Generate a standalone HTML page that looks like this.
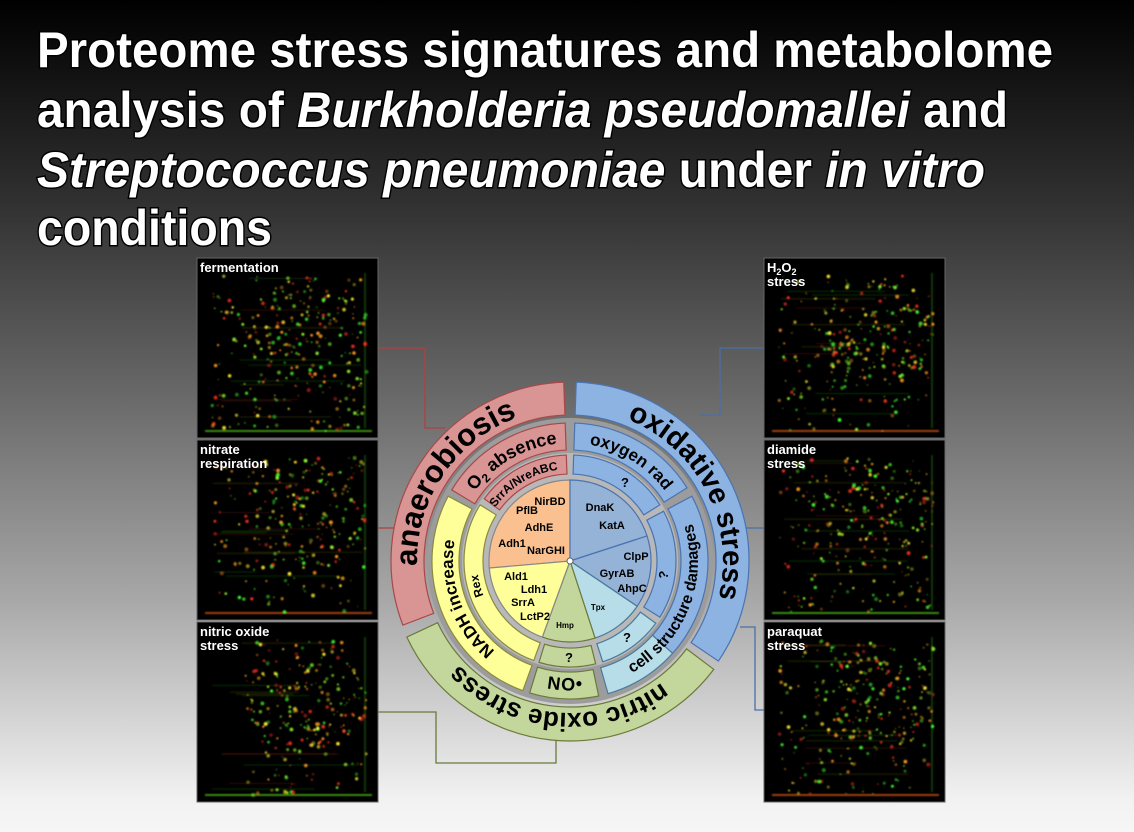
<!DOCTYPE html>
<html><head><meta charset="utf-8">
<style>
html,body{margin:0;padding:0;}
body{width:1134px;height:832px;overflow:hidden;background:linear-gradient(#000 0px,#303030 200px,#6a6a6a 400px,#a8a8a8 600px,#f2f2f2 800px,#f6f6f6 832px);}
svg{display:block;}
</style></head><body>
<svg id="s" width="1134" height="832" xmlns="http://www.w3.org/2000/svg">
<defs>
<filter id="bl" x="-50%" y="-50%" width="200%" height="200%"><feGaussianBlur stdDeviation="0.8"/></filter>
</defs>
<g font-family="Liberation Sans, sans-serif" font-weight="bold" fill="#fff" stroke="#000" stroke-width="3" paint-order="stroke" font-size="50">
<text x="37" y="67" textLength="1016" lengthAdjust="spacingAndGlyphs">Proteome stress signatures and metabolome</text>
<text x="37" y="127" textLength="971" lengthAdjust="spacingAndGlyphs">analysis of <tspan font-style="italic">Burkholderia pseudomallei</tspan> and</text>
<text x="37" y="187" textLength="948" lengthAdjust="spacingAndGlyphs"><tspan font-style="italic">Streptococcus pneumoniae</tspan> under <tspan font-style="italic">in vitro</tspan></text>
<text x="37" y="245" textLength="235" lengthAdjust="spacingAndGlyphs">conditions</text>
</g>
<g fill="none" stroke-width="1.3">
<path d="M378 348 H425 V428 H445" stroke="#b04040"/>
<path d="M378 528 H398" stroke="#b04040"/>
<path d="M764 348 H720 V415 H700" stroke="#4a6fa5"/>
<path d="M764 528 H745" stroke="#4a6fa5"/>
<path d="M764 710 H755 V627 H740" stroke="#4a6fa5"/>
<path d="M378 712 H436 V763 H556 V740" stroke="#6b7a3a"/>
</g>
<g id="gels"></g>
<g id="circ"></g>
</svg>
<script>
var NS="http://www.w3.org/2000/svg";
function el(t,a,p){var e=document.createElementNS(NS,t);for(var k in a)e.setAttribute(k,a[k]);if(p)p.appendChild(e);return e;}
var seed=7;function rnd(){seed=(seed*16807)%2147483647;return (seed-1)/2147483646;}
var G=document.getElementById('gels');var D=document.querySelector('defs');
var gels=[[197,258,"fermentation"],[197,440,"nitrate|respiration"],[197,622,"nitric oxide|stress"],[764,258,"H2O2|stress"],[764,440,"diamide|stress"],[764,622,"paraquat|stress"]];
gels.forEach(function(g,i){
 var x=g[0],y=g[1],w=181,h=180;
 var cp=el('clipPath',{id:'c'+i},D);el('rect',{x:x,y:y,width:w,height:h},cp);
 el('rect',{x:x,y:y,width:w,height:h,fill:'#000',stroke:'#666','stroke-width':1},G);
 var gg=el('g',{filter:'url(#bl)','clip-path':'url(#c'+i+')'},G);
 for(var k=0;k<10;k++){var yy=y+20+rnd()*150;el('rect',{x:x+15+rnd()*40,y:yy,width:40+rnd()*80,height:1,fill:['#1a5a10','#5a1a10','#4a4a10'][k%3],opacity:0.5},gg);}
 el('rect',{x:x+8,y:y+h-8,width:w-14,height:2,fill:i%2?'#a04010':'#3a8a10'},gg);
 el('rect',{x:x+w-14,y:y+15,width:2,height:h-25,fill:'#1a5a10',opacity:0.6},gg);
 var cols=['#40ff30','#ffee30','#ff3020','#ff9a20','#90ff30'];
 for(var k=0;k<420;k++){
   var px=x+15+rnd()*155, py=y+18+rnd()*155;
   if(i==2&&px<x+45)continue;
   var cxm=x+110,cym=y+75,d=Math.hypot((px-cxm)*0.9,py-cym);
   if(d>55&&rnd()<0.6)continue;
   var c=cols[Math.floor(rnd()*cols.length)];
   el('circle',{cx:px,cy:py,r:0.6+rnd()*1.4,fill:c,opacity:0.35+rnd()*0.6},gg);
 }
 var lines=g[2].split('|');
 lines.forEach(function(l,j){
  var t=el('text',{x:x+3,y:y+14+j*14,fill:'#fff','font-family':'Liberation Sans, sans-serif','font-weight':'bold','font-size':13},G);
  if(l=="H2O2"){t.innerHTML='H<tspan font-size="9" dy="3">2</tspan><tspan dy="-3">O</tspan><tspan font-size="9" dy="3">2</tspan>';}
  else t.textContent=l;
 });
});
var C=document.getElementById('circ');var cx=570,cy=561;
function pt(r,a){var t=a*Math.PI/180;return [(cx+r*Math.sin(t)).toFixed(2),(cy-r*Math.cos(t)).toFixed(2)];}
function seg(r1,r2,a1,a2,fill,stroke){
 var lg=(a2-a1)>180?1:0,p1=pt(r2,a1),p2=pt(r2,a2),p3=pt(r1,a2),p4=pt(r1,a1);
 var d='M'+p1+' A'+r2+' '+r2+' 0 '+lg+' 1 '+p2+' L'+p3+' A'+r1+' '+r1+' 0 '+lg+' 0 '+p4+'Z';
 if(r1==0)d='M'+cx+','+cy+' L'+p1+' A'+r2+' '+r2+' 0 '+lg+' 1 '+p2+'Z';
 el('path',{d:d,fill:fill,stroke:stroke,'stroke-width':1.2},C);
}
var idn=0;
function ctext(r,a1,a2,txt,size,cw){
 var id='p'+(idn++),p1,p2,d;
 if(cw){p1=pt(r,a1);p2=pt(r,a2);d='M'+p1+' A'+r+' '+r+' 0 0 1 '+p2;}
 else{p1=pt(r,a2);p2=pt(r,a1);d='M'+p1+' A'+r+' '+r+' 0 0 0 '+p2;}
 el('path',{id:id,d:d,fill:'none'},C);
 var t=el('text',{'font-family':'Liberation Sans, sans-serif','font-weight':'bold','font-size':size,fill:'#000'},C);
 var tp=el('textPath',{href:'#'+id,startOffset:'50%','text-anchor':'middle'},t);
 tp.innerHTML=txt;
}
var PK='#d99594',PKs='#a84848',BL='#8db3e2',BLs='#4a74b0',GR='#c3d69b',GRs='#6b7a3a',YE='#ffff99',YEs='#8a8a40',LB='#b7dde8',LBs='#4a7a9a',OR='#fac090';
el('circle',{cx:cx,cy:cy,r:143,fill:'#9c9c9c'},C);
el('circle',{cx:cx,cy:cy,r:108,fill:'#b8b8b8'},C);
seg(146,179,249,358,PK,PKs);seg(146,179,2,124,BL,BLs);seg(146,180,127,245,GR,GRs);
seg(111,138,301,358,PK,PKs);seg(111,138,2,58,BL,BLs);seg(111,138,62,132,BL,BLs);seg(111,138,132,164,LB,LBs);
seg(111,138,168,197,GR,GRs);seg(111,138,200,298,YE,YEs);
seg(87,106,306,358,PK,PKs);seg(87,106,2,58,BL,BLs);seg(87,106,62,122,BL,BLs);seg(87,106,126,162,LB,LBs);
seg(87,106,166,197,GR,GRs);seg(87,106,200,302,YE,YEs);
seg(0,81,265,360,OR,'#888');seg(0,81,0,72,'#95b3d7',BLs);seg(0,81,72,124,'#95b3d7',BLs);
seg(0,81,124,162,LB,LBs);seg(0,81,162,200,GR,GRs);seg(0,81,200,265,YE,'#888');
el('circle',{cx:cx,cy:cy,r:3,fill:'#fff',stroke:'#666'},C);
ctext(153,252,356,'anaerobiosis',31,true);
ctext(153,6,120,'oxidative stress',29,true);
ctext(152,130,240,'nitric oxide stress',26,true);
ctext(118,303,357,'O<tspan font-size="12" dy="4">2</tspan><tspan dy="-4"> absence</tspan>',18,true);
ctext(118,5,58,'oxygen rad',17,true);
ctext(128,62,162,'cell structure damages',16,false);
ctext(117,205,295,'NADH increase',17,true);
ctext(117,160,205,'•ON',18,true);
ctext(92,296,362,'SrrA/NreABC',12,true);
ctext(93,240,270,'Rex',12,true);
var labs=[[550,505,'NirBD',11],[527,514,'PflB',11],[539,531,'AdhE',11],[512,547,'Adh1',11],[546,554,'NarGHI',11],[516,580,'Ald1',11],[534,593,'Ldh1',11],[523,606,'SrrA',11],[535,620,'LctP2',11],[565,628,'Hmp',8],[598,610,'Tpx',8],[600,511,'DnaK',11],[612,529,'KatA',11],[636,560,'ClpP',11],[617,577,'GyrAB',11],[632,592,'AhpC',11],[625,487,'?',13],[627,642,'?',13],[569,662,'?',13]];
labs.forEach(function(l){var t=el('text',{x:l[0],y:l[1],'text-anchor':'middle','font-family':'Liberation Sans, sans-serif','font-weight':'bold','font-size':l[3],fill:'#000'},C);t.textContent=l[2];});
var q=el('text',{x:664,y:579,'text-anchor':'middle','font-family':'Liberation Sans, sans-serif','font-weight':'bold','font-size':13,transform:'rotate(-80 664 575)'},C);q.textContent='?';
</script>
</body></html>
